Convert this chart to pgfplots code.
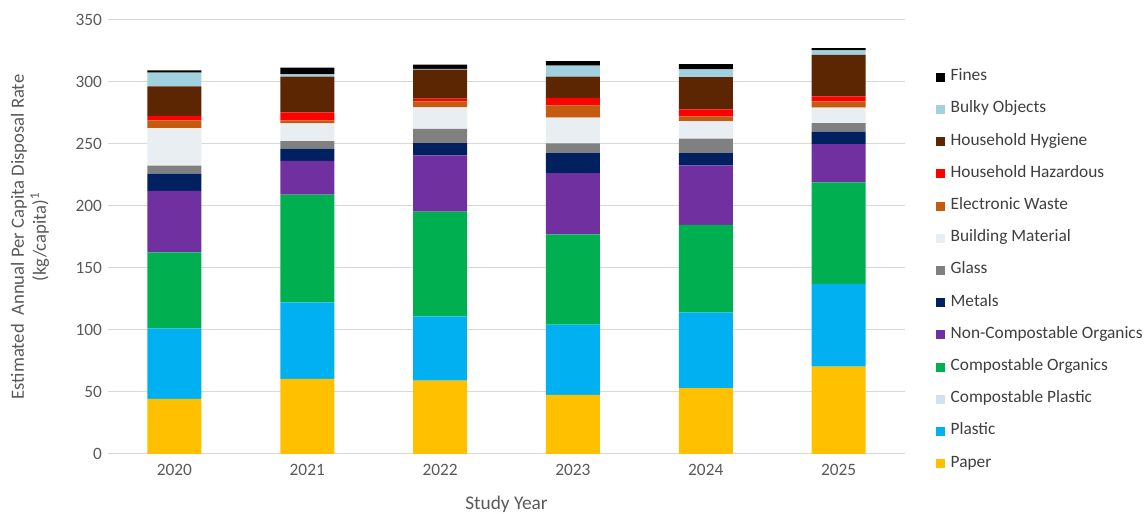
\documentclass[border=0pt]{standalone}
\usepackage{pgfplots}
\usepackage{pgfplotstable}
\pgfplotsset{compat=1.18}
\usepackage{fontspec}
\setmainfont{Carlito}

\definecolor{cPaper}{HTML}{FFC000}
\definecolor{cPlastic}{HTML}{00B0F0}
\definecolor{cCompPlastic}{HTML}{CFE2F0}
\definecolor{cCompOrg}{HTML}{00B050}
\definecolor{cNonComp}{HTML}{7030A0}
\definecolor{cMetals}{HTML}{002060}
\definecolor{cGlass}{HTML}{808080}
\definecolor{cBuilding}{HTML}{E8EEF1}
\definecolor{cEwaste}{HTML}{C55A11}
\definecolor{cHazard}{HTML}{FF0000}
\definecolor{cHygiene}{HTML}{5C2602}
\definecolor{cBulky}{HTML}{A1D1DE}
\definecolor{cFines}{HTML}{000000}
\definecolor{txtgray}{HTML}{595959}
\definecolor{gridgray}{HTML}{D9D9D9}

% Annual per capita disposal rate by material (kg/capita)
\pgfplotstableread{
x year paper plastic compplastic comporg noncomp metals glass building ewaste hazard hygiene bulky fines
0 2020 44.4 57.0 0 61.3 49.4 14.0 6.4 30.4 6.2 3.5 23.9 11.0 1.9
1 2021 60.5 61.8 0 86.8 27.2 9.9 6.2 14.3 2.4 6.4 28.8 1.9 5.4
2 2022 59.1 51.9 0 84.4 45.5 9.9 11.3 17.5 4.8 2.2 23.3 0.6 3.5
3 2023 47.6 56.7 0 72.9 49.4 16.1 7.8 20.7 10.0 5.9 17.2 8.9 3.7
4 2024 53.2 61.1 0 70.4 48.1 9.9 11.6 14.2 3.8 5.7 26.0 6.2 4.3
5 2025 70.4 66.7 0 82.0 30.7 10.1 7.0 12.4 5.1 4.1 33.3 3.8 1.8
}\wastedata

\begin{document}
\begin{tikzpicture}[x=0.75pt,y=0.75pt]
\begin{axis}[
  at={(81pt,45pt)}, anchor=south west,
  scale only axis,
  width=597.75pt, height=325.5pt,
  ybar stacked,
  bar width=40.5pt,
  xmin=-0.5, xmax=5.5,
  ymin=0, ymax=350,
  ytick={0,50,...,350},
  xtick=data,
  xticklabels={2020,2021,2022,2023,2024,2025},
  ymajorgrids,
  grid style={gridgray, line width=0.75pt},
  axis line style={draw=none},
  major tick length=0pt,
  tick label style={font=\fontsize{13}{15}\selectfont, text=txtgray},
  /pgf/number format/assume math mode=true,
  yticklabel style={xshift=-1pt},
  xticklabel style={yshift=-4pt},
  xlabel={Study Year},
  xlabel style={at={(axis description cs:0.5,-0.1152)}, anchor=center,
    font=\fontsize{14.5}{16}\selectfont, text=txtgray},
  ylabel={Estimated\ \ Annual Per Capita Disposal Rate\\(kg/capita)$^{\mathrm{1}}$},
  ylabel style={at={(axis description cs:-0.068,0.5)}, anchor=south, rotate=0,
    align=center, font=\fontsize{14}{16.5}\selectfont, text=txtgray},
  every axis plot/.append style={draw=none},
  legend image code/.code={\fill[#1] (0pt,-3.4pt) rectangle (6.8pt,3.4pt);},
  reverse legend,
  legend cell align=left,
  legend style={at={(axis description cs:1.0389,0.884)}, anchor=north west,
    draw=none, fill=none, inner sep=0pt,
    font=\fontsize{13}{15}\selectfont, text=txtgray!70!black,
    row sep=14.15pt,
    nodes={inner sep=0pt, text height=7.5pt, text depth=2.5pt},
    /tikz/every odd column/.append style={column sep=4pt}},
]
\addplot[fill=cPaper] table[x=x,y=paper] {\wastedata};
\addlegendentry{Paper}
\addplot[fill=cPlastic] table[x=x,y=plastic] {\wastedata};
\addlegendentry{Plastic}
\addplot[fill=cCompPlastic] table[x=x,y=compplastic] {\wastedata};
\addlegendentry{Compostable Plastic}
\addplot[fill=cCompOrg] table[x=x,y=comporg] {\wastedata};
\addlegendentry{Compostable Organics}
\addplot[fill=cNonComp] table[x=x,y=noncomp] {\wastedata};
\addlegendentry{Non-Compostable Organics}
\addplot[fill=cMetals] table[x=x,y=metals] {\wastedata};
\addlegendentry{Metals}
\addplot[fill=cGlass] table[x=x,y=glass] {\wastedata};
\addlegendentry{Glass}
\addplot[fill=cBuilding] table[x=x,y=building] {\wastedata};
\addlegendentry{Building Material}
\addplot[fill=cEwaste] table[x=x,y=ewaste] {\wastedata};
\addlegendentry{Electronic Waste}
\addplot[fill=cHazard] table[x=x,y=hazard] {\wastedata};
\addlegendentry{Household Hazardous}
\addplot[fill=cHygiene] table[x=x,y=hygiene] {\wastedata};
\addlegendentry{Household Hygiene}
\addplot[fill=cBulky] table[x=x,y=bulky] {\wastedata};
\addlegendentry{Bulky Objects}
\addplot[fill=cFines] table[x=x,y=fines] {\wastedata};
\addlegendentry{Fines}
\end{axis}
\pgfresetboundingbox
\path (0,0) rectangle (1146,514);
\end{tikzpicture}
\end{document}
